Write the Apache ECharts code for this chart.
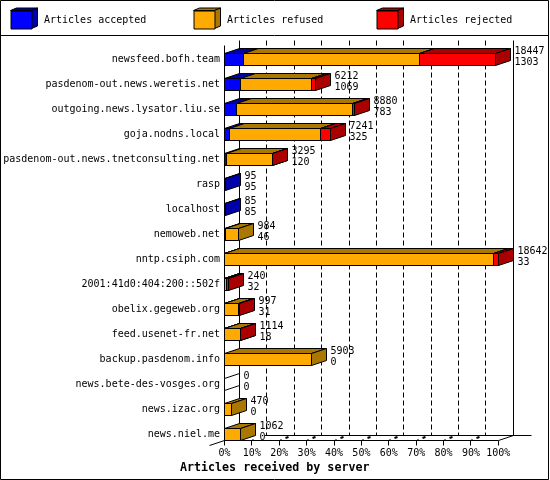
<!DOCTYPE html>
<html><head><meta charset="utf-8">
<style>html,body{margin:0;padding:0;background:#fff}#c{width:550px;height:480px}</style>
<script src="https://cdn.jsdelivr.net/npm/echarts@6/dist/echarts.min.js"></script>
</head><body><div id="c"></div>
<script>
const categories = ["newsfeed.bofh.team","pasdenom-out.news.weretis.net","outgoing.news.lysator.liu.se","goja.nodns.local","pasdenom-out.news.tnetconsulting.net","rasp","localhost","nemoweb.net","nntp.csiph.com","2001:41d0:404:200::502f","obelix.gegeweb.org","feed.usenet-fr.net","backup.pasdenom.info","news.bete-des-vosges.org","news.izac.org","news.niel.me"];
const accepted = [1303,1069,783,325,120,95,85,46,33,32,31,18,0,0,0,0];
const refused  = [11976,4875,7929,6232,3145,0,0,938,18269,130,910,1059,5903,0,470,1062];
const rejected = [5168,268,168,684,30,0,0,0,340,78,56,37,0,0,0,0];
const totals   = [18447,6212,8880,7241,3295,95,85,984,18642,240,997,1114,5903,0,470,1062];
const percentTicks = [0,10,20,30,40,50,60,70,80,90,100];
const seriesNames = ["Articles accepted","Articles refused","Articles rejected"];
const frontColors = ["#0000ff","#ffaa00","#ff0000"];
const darkColors  = ["#0000aa","#aa7700","#aa0000"];
const maxTotal = 18642;
const FONT = '"DejaVu Sans Mono"';
const DX = 15, DY = 5, HALF = 6;
const snap = v => Math.round(v - 0.5) + 0.5;
const chart = echarts.init(document.getElementById('c'));

function poly(points, fill) {
  return {type:'polygon', shape:{points}, style:{fill, stroke:'#000', lineWidth:1}, silent:true};
}
function line(x1,y1,x2,y2,extra) {
  return {type:'line', shape:{x1,y1,x2,y2}, style:Object.assign({stroke:'#000',lineWidth:1,fill:null},extra||{}), silent:true};
}
function boxSeries(k) {
  return {
    type:'custom', name:seriesNames[k], itemStyle:{color:frontColors[k]}, clip:false, z:5,
    encode:{x:[1,2], y:0},
    data: categories.map((c,i)=>{
      const s = k===0 ? 0 : k===1 ? accepted[i] : accepted[i]+refused[i];
      const v = [accepted,refused,rejected][k][i];
      return [i, s, s+v, totals[i]];
    }),
    renderItem(params, api) {
      const start = api.value(1), end = api.value(2), total = api.value(3);
      const p0 = api.coord([start, api.value(0)]), p1 = api.coord([end, api.value(0)]);
      const x0 = snap(p0[0]), x1 = snap(p1[0]), t = snap(p0[1]) - HALF, b = t + 2*HALF;
      if (end <= start) {
        if (k === 0 && total === 0) {
          return {type:'group', children:[poly([[x0,t],[x0+DX,t-DY],[x0+DX,b-DY],[x0,b]],'#fff')]};
        }
        return {type:'group', children:[]};
      }
      return {type:'group', children:[
        poly([[x0,t],[x0+DX,t-DY],[x1+DX,t-DY],[x1,t]], darkColors[k]),
        poly([[x1,t],[x1+DX,t-DY],[x1+DX,b-DY],[x1,b]], darkColors[k]),
        poly([[x0,t],[x1,t],[x1,b],[x0,b]], frontColors[k])
      ]};
    }
  };
}
const wallSeries = {
  type:'custom', name:'walls', clip:false, z:2, silent:true,
  encode:{x:0,y:1},
  data: percentTicks.map(p=>[p/100*maxTotal, 0, p]),
  renderItem(params, api) {
    const pct = api.value(2);
    const x = snap(api.coord([api.value(0),0])[0]);
    const top = snap(api.coord([0,0])[1]) - HALF;
    const floor = snap(api.coord([0,categories.length-1])[1]) + HALF;
    const kids = [];
    const solid = pct===0 || pct===100;
    kids.push(line(x+DX, top-DY-8, x+DX, floor-DY, solid?{}:{lineDash:[5,3]}));
    kids.push(line(x, floor, x, floor+DY));
    if (pct===0) {
      kids.push(line(x, top-8, x, floor));
      kids.push(line(x-DX, floor+DY, x+DX, floor-DY));
      kids.push(line(x, floor, api.coord([maxTotal,0])[0], floor));
      kids.push(line(265, floor-DY, 531.5, floor-DY));
    } else if (pct===100) {
      kids.push(line(x, floor, x+DX, floor-DY));
    } else {
      kids.push(line(x, floor, x+2, floor-1));
      if (pct>10) kids.push(line(x+6, floor-2.5, x+9, floor-3.5, {lineWidth:2}));
    }
    return {type:'group', children:kids};
  }
};
const labelSeries = {
  type:'custom', name:'counts', clip:false, z:6, silent:true,
  encode:{x:1,y:0},
  data: categories.map((c,i)=>[i, totals[i], accepted[i]]),
  renderItem(params, api) {
    const p = api.coord([api.value(1), api.value(0)]);
    const x = snap(p[0]) + DX + 4, t = snap(p[1]) - HALF;
    const txt = (s,y)=>({type:'text', silent:true, style:{x, y, text:String(s), fill:'#000', font:'10px '+FONT, textAlign:'left', textVerticalAlign:'middle'}});
    return {type:'group', children:[txt(api.value(1), t-2), txt(api.value(2), t+9)]};
  }
};
const legendLefts = [10.5,193.5,376.5];
const legends = seriesNames.map((n,k)=>({
  data:[n], icon:'rect', left:legendLefts[k], top:10.5, padding:0, itemWidth:21, itemHeight:18, selectedMode:false,
  itemStyle:{borderColor:'#000',borderWidth:1},
  textStyle:{color:'#000',fontFamily:FONT,fontSize:10,padding:[1,0,0,7]}
}));
const legendBoxes = [];
legendLefts.forEach((l,k)=>{
  const x0=l, x1=l+21, t=10.5, b=28.5;
  legendBoxes.push({type:'polygon',silent:true,shape:{points:[[x0,t],[x0+6,t-2.5],[x1+6,t-2.5],[x1,t]]},style:{fill:darkColors[k],stroke:'#000',lineWidth:1}});
  legendBoxes.push({type:'polygon',silent:true,shape:{points:[[x1,t],[x1+6,t-2.5],[x1+6,b-2.5],[x1,b]]},style:{fill:darkColors[k],stroke:'#000',lineWidth:1}});
});
chart.setOption({
  animation:false, backgroundColor:'#fff',
  title:{text:'Articles received by server',left:180,top:462,padding:0,itemGap:0,
    textStyle:{color:'#000',fontFamily:FONT,fontSize:11.67,fontWeight:'bold',lineHeight:12}},
  legend:legends,
  grid:{left:224.5,width:273.8,top:47,height:400},
  xAxis:{type:'value',min:0,max:maxTotal,interval:maxTotal/10,
    axisLine:{show:false},axisTick:{show:false},splitLine:{show:false},
    axisLabel:{show:true,margin:1,color:'#000',fontFamily:FONT,fontSize:10,showMinLabel:true,showMaxLabel:true,
      formatter:v=>Math.round(v/maxTotal*100)+'%'}},
  yAxis:{type:'category',inverse:true,data:categories,
    axisLine:{show:false},axisTick:{show:false},splitLine:{show:false},
    axisLabel:{margin:4.5,color:'#000',fontFamily:FONT,fontSize:10,interval:0}},
  graphic:[
    {type:'rect',silent:true,z:0,shape:{x:0.5,y:0.5,width:548,height:479},style:{fill:null,stroke:'#000',lineWidth:1}},
    {type:'line',silent:true,z:0,shape:{x1:0,y1:35.5,x2:549,y2:35.5},style:{stroke:'#000',lineWidth:1}},
    ...legendBoxes
  ],
  series:[wallSeries, boxSeries(0), boxSeries(1), boxSeries(2), labelSeries]
});
</script></body></html>
